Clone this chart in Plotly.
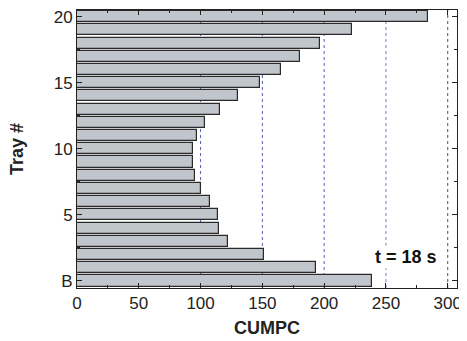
import plotly.graph_objects as go

trays = list(range(21))  # 0 = B
tray_labels = ["B"] + [str(i) for i in range(1, 21)]
cumpc = [238.7, 193.7, 151.4, 121.8, 115.1, 114.0, 107.8, 100.5, 95.4, 93.5,
         94.0, 96.8, 103.7, 115.4, 130.4, 147.7, 164.7, 180.3, 196.4, 222.9, 284.0]
ref_lines = [100, 150, 200, 250, 300]
ref_colors = ["#5a5ab4", "#5a5ab4", "#5a5ab4", "#7878c0", "#505070"]
ytick_vals = [0, 5, 10, 15, 20]
ytick_text = ["B", "5", "10", "15", "20"]
xtick_vals = [0, 50, 100, 150, 200, 250, 300]

FAM = "Liberation Sans, Arial"

fig = go.Figure()
fig.add_trace(go.Bar(
    x=cumpc, y=trays, orientation="h", width=0.84,
    marker=dict(color="#c1c5cc", line=dict(color="#2a2a2a", width=1.2)),
    showlegend=False,
))

for xv, c in zip(ref_lines, ref_colors):
    fig.add_shape(type="line", x0=xv, x1=xv, y0=0, y1=1, xref="x", yref="paper",
                  line=dict(color=c, width=1, dash="dot"), layer="below")

fig.add_annotation(x=266, y=1.8, text="<b>t = 18 s</b>", showarrow=False,
                   font=dict(family=FAM, size=18, color="#111"),
                   bgcolor="white")

# axis titles as annotations
fig.add_annotation(x=0.5, y=-0.145, xref="paper", yref="paper", yanchor="middle",
                   text="<b>CUMPC</b>", showarrow=False,
                   font=dict(family=FAM, size=18, color="#222"))
fig.add_annotation(x=-0.158, y=0.5, xref="paper", yref="paper", xanchor="center",
                   text="<b>Tray #</b>", showarrow=False, textangle=-90,
                   font=dict(family=FAM, size=18, color="#222"))

font = dict(family=FAM, size=17, color="#222")
fig.update_layout(
    width=459, height=333,
    margin=dict(l=69, r=10, t=2, b=53),
    plot_bgcolor="white", paper_bgcolor="white",
    bargap=0,
    xaxis=dict(range=[0, 307.5], tickvals=xtick_vals, ticks="inside", ticklen=5,
               tickcolor="#222", showline=True, linecolor="#222", linewidth=1,
               mirror="ticks", showgrid=False, zeroline=False, tickfont=font,
               automargin=False, ticklabeloverflow="allow",
               minor=dict(dtick=25, tick0=0, ticks="inside", ticklen=3, tickcolor="#222")),
    yaxis=dict(range=[-0.53, 20.5], tickvals=ytick_vals, ticktext=ytick_text,
               ticks="inside", ticklen=5, tickcolor="#222", showline=True,
               linecolor="#222", linewidth=1, mirror="ticks", showgrid=False,
               zeroline=False, tickfont=font, automargin=False,
               ticklabeloverflow="allow",
               minor=dict(dtick=2.5, tick0=0, ticks="inside", ticklen=3, tickcolor="#222")),
)

fig.write_html("out.html")
